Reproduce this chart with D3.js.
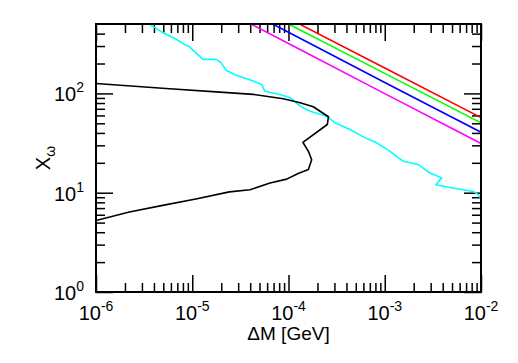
<!DOCTYPE html>
<html>
<head>
<meta charset="utf-8">
<script src="https://cdn.jsdelivr.net/npm/d3@7"></script>
<style>
  body { margin: 0; background: #fff; }
  svg { display: block; font-family: "Liberation Sans", Arial, sans-serif; }
</style>
</head>
<body>
<div id="chart"></div>
<script>
const width = 518, height = 363;
const margin = {top: 24, right: 37, bottom: 71, left: 96};

// data
const xMajor = [1e-6, 1e-5, 1e-4, 1e-3, 1e-2];
const xExp = [-6, -5, -4, -3, -2];
const yMajor = [1, 10, 100];
const yExp = [0, 1, 2];

// straight lines
const lineDM = [1e-5, 1e-4, 1e-3, 1e-2];
const redX = [1800, 569, 180, 57];
const greenX = [1585, 500, 159, 50.6];
const blueX = [1310, 413, 129, 40.7];
const magentaX = [1010, 318, 99.5, 31.3];

// cyan boundary
const cyanDM = [3.58e-6, 4.93e-6, 6.78e-6, 8.61e-6, 9.3e-6, 1.29e-5, 1.77e-5, 1.99e-5, 2.25e-5, 2.87e-5,
  4.3e-5, 5.27e-5, 5.7e-5, 8.17e-5, 1.04e-4, 1.32e-4, 1.67e-4, 2.5e-4, 3.04e-4, 4.35e-4,
  5.98e-4, 8.24e-4, 1.135e-3, 1.56e-3, 2.23e-3, 2.95e-3, 3.91e-3, 3.4e-3, 4.76e-3, 6.55e-3,
  8.3e-3, 9.38e-3, 1e-2];
const cyanX = [500, 410, 351, 305, 296, 220, 220, 204, 171, 152,
  133, 123, 105, 97.7, 90.5, 74.5, 66.2, 59, 50.6, 43.3,
  36.5, 31.8, 26.1, 20.7, 19.2, 15.8, 14.1, 12.05, 11.3, 10.7,
  10.3, 9.55, 8.6];

// black contour
const blackDM = [1e-6, 5.33e-6, 1.94e-5, 4.3e-5, 8.83e-5, 1.32e-4, 1.81e-4, 2.6e-4, 2.53e-4, 1.41e-4,
  1.61e-4, 1.74e-4, 1.61e-4, 1.26e-4, 9.58e-5, 6.43e-5, 3.98e-5, 2.43e-5, 1.09e-5, 4.93e-6,
  2.22e-6, 1e-6];
const blackX = [126, 112, 103, 97.7, 88.4, 80.5, 73.4, 58.2, 48.6, 32.2,
  26.1, 21.5, 17.1, 15.6, 13.7, 12.5, 10.7, 10.2, 8.64, 7.45,
  6.38, 5.25];

const x = d3.scaleLog().domain([1e-6, 1e-2]).range([margin.left, width - margin.right]);
const y = d3.scaleLog().domain([1, 500]).range([height - margin.bottom, margin.top]);

const svg = d3.select("#chart").append("svg")
  .attr("width", width).attr("height", height);

svg.append("clipPath").attr("id", "clip")
  .append("rect")
  .attr("x", margin.left).attr("y", margin.top)
  .attr("width", width - margin.left - margin.right)
  .attr("height", height - margin.top - margin.bottom);

// minor ticks
function minors(lo, hi) {
  const out = [];
  for (let e = Math.floor(Math.log10(lo)); e <= Math.ceil(Math.log10(hi)); e++) {
    for (let k = 2; k <= 9; k++) {
      const v = k * Math.pow(10, e);
      if (v > lo && v < hi) out.push(v);
    }
  }
  return out;
}
const xMinor = minors(1e-6, 1e-2);
const yMinor = minors(1, 500);

const plotB = height - margin.bottom, plotR = width - margin.right;
const majorLen = 17, minorLen = 9;

function drawTicks(axisFn, scale, values, len, transform) {
  svg.append("g")
    .attr("transform", transform)
    .call(axisFn(scale).tickValues(values).tickSize(-len).tickFormat(""))
    .call(g => g.select(".domain").remove())
    .call(g => g.selectAll(".tick line").attr("stroke", "#000").attr("stroke-width", 1.5));
}
drawTicks(d3.axisBottom, x, xMajor, majorLen, `translate(0,${plotB})`);
drawTicks(d3.axisBottom, x, xMinor, minorLen, `translate(0,${plotB})`);
drawTicks(d3.axisTop, x, xMajor, majorLen, `translate(0,${margin.top})`);
drawTicks(d3.axisTop, x, xMinor, minorLen, `translate(0,${margin.top})`);
drawTicks(d3.axisLeft, y, yMajor, majorLen, `translate(${margin.left},0)`);
drawTicks(d3.axisLeft, y, yMinor, minorLen, `translate(${margin.left},0)`);
drawTicks(d3.axisRight, y, yMajor, majorLen, `translate(${plotR},0)`);
drawTicks(d3.axisRight, y, yMinor, minorLen, `translate(${plotR},0)`);

// tick labels with superscripts
function powLabel(sel, e) {
  sel.append("tspan").text("10");
  sel.append("tspan").attr("dy", -9).attr("font-size", 14).text(e);
}
xMajor.forEach((v, i) => {
  const t = svg.append("text")
    .attr("x", x(v)).attr("y", plotB + 28)
    .attr("text-anchor", "middle").attr("font-size", 20);
  powLabel(t, xExp[i] < 0 ? "-" + Math.abs(xExp[i]) : String(xExp[i]));
});
yMajor.forEach((v, i) => {
  const t = svg.append("text")
    .attr("x", margin.left - 12).attr("y", y(v) + 8)
    .attr("text-anchor", "end").attr("font-size", 20);
  powLabel(t, String(yExp[i]));
});

// axis titles
svg.append("text")
  .attr("x", (margin.left + plotR) / 2).attr("y", plotB + 48)
  .attr("text-anchor", "middle").attr("font-size", 19)
  .text("ΔM [GeV]");

const yt = svg.append("text")
  .attr("transform", `translate(50,${(margin.top + plotB) / 2}) rotate(-90)`)
  .attr("text-anchor", "middle").attr("font-size", 20);
yt.append("tspan").text("X");
yt.append("tspan").attr("dy", 5).attr("font-size", 14).text("ω");

// curves
const line = d3.line().x(d => x(d[0])).y(d => y(d[1]));
const plot = svg.append("g").attr("clip-path", "url(#clip)");
function drawCurve(xs, ys, color) {
  plot.append("path")
    .datum(xs.map((v, i) => [v, ys[i]]))
    .attr("fill", "none")
    .attr("stroke", color)
    .attr("stroke-width", 1.6)
    .attr("stroke-linejoin", "round")
    .attr("d", line);
}
drawCurve(cyanDM, cyanX, "#00ffff");
drawCurve(blackDM, blackX, "#000000");
drawCurve(lineDM, magentaX, "#ff00ff");
drawCurve(lineDM, blueX, "#0000ff");
drawCurve(lineDM, greenX, "#00ff00");
drawCurve(lineDM, redX, "#ff0000");

// frame
svg.append("rect")
  .attr("x", margin.left).attr("y", margin.top)
  .attr("width", plotR - margin.left).attr("height", plotB - margin.top)
  .attr("fill", "none").attr("stroke", "#000").attr("stroke-width", 2);
</script>
</body>
</html>
